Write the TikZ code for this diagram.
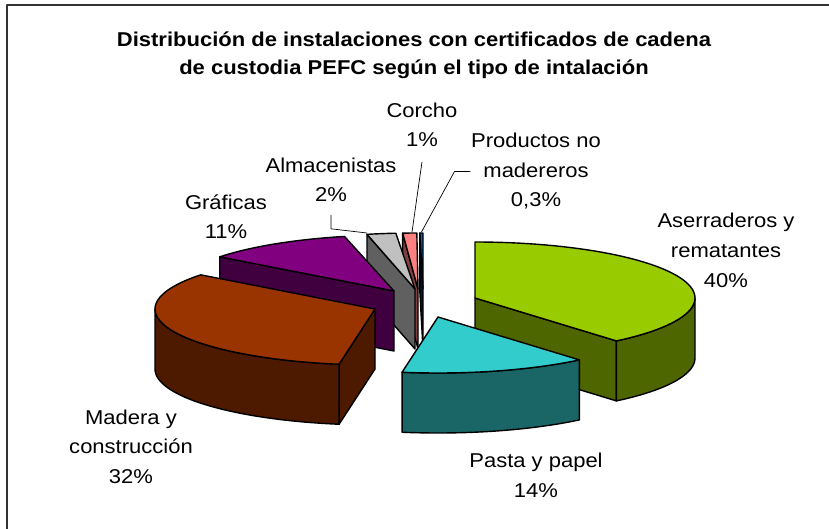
\documentclass[tikz,border=0pt]{standalone}
\usepackage{fontspec}
\setmainfont[FakeStretch=1.1]{Liberation Sans}
\definecolor{grTop}{HTML}{99CC00}\definecolor{grSide}{HTML}{4D6600}
\definecolor{paTop}{HTML}{33CCCC}\definecolor{paSide}{HTML}{1A6666}
\definecolor{maTop}{HTML}{993300}\definecolor{maSide}{HTML}{4D1A00}
\definecolor{gfTop}{HTML}{800080}\definecolor{gfSide}{HTML}{400040}
\definecolor{alTop}{HTML}{C0C0C0}\definecolor{alSide}{HTML}{606060}
\definecolor{coTop}{HTML}{FF8080}\definecolor{coSide}{HTML}{804040}
\definecolor{prTop}{HTML}{0066CC}\definecolor{prSide}{HTML}{001A33}
% cx, cy, t1, t2, colour
\newcommand\pieTop[5]{\filldraw[fill=#5] (#1,#2) -- plot[variable=\t,domain=#3:#4,samples=60] ({#1+220*sin(\t)},{#2-56*cos(\t)}) -- cycle;}
\newcommand\pieSide[5]{\filldraw[fill=#5] plot[variable=\t,domain=#3:#4,samples=40] ({#1+220*sin(\t)},{#2-56*cos(\t)}) -- plot[variable=\t,domain=#4:#3,samples=40] ({#1+220*sin(\t)},{#2+60-56*cos(\t)}) -- cycle;}
% cx, cy, angle, colour
\newcommand\pieCut[4]{\filldraw[fill=#4] (#1,#2) -- ({#1+220*sin(#3)},{#2-56*cos(#3)}) -- ++(0,60) -- (#1,{#2+60}) -- cycle;}
\begin{document}
\begin{tikzpicture}[x=1pt,y=-1pt,line width=1.4pt,line join=round,
  lbl/.style={font=\fontsize{20}{29.5}\selectfont,align=center,anchor=base,inner sep=0pt},
  ttl/.style={font=\fontsize{20}{28}\selectfont\bfseries,align=center,anchor=base,inner sep=0pt},
  leader/.style={line width=0.7pt,draw=black},
  frame/.style={line width=1.2pt,draw=black!80}]
\useasboundingbox (0,0) rectangle (829,529);
\fill[white] (0,0) rectangle (829,529);
\draw[frame] (7,529) -- (7,5) -- (829,5);

% title (base = baseline of last line)
\node[ttl] (title) at (414,75) {Distribución de instalaciones con certificados de cadena\\de custodia PEFC según el tipo de intalación};

% Productos no madereros
\pieCut{423}{289}{359.2}{prSide}
\pieTop{423}{289}{359.2}{360}{prTop}
% Corcho
\pieCut{418}{289}{356}{coSide}
\pieTop{418}{289}{356}{359.7}{coTop}
% Almacenistas
\pieCut{415}{289}{347.4}{alSide}
\pieTop{415}{289}{347.4}{355}{alTop}
% Graficas
\pieCut{394}{291}{307.6}{gfSide}
\pieTop{394}{291}{307.6}{347}{gfTop}
% Aserraderos
\pieCut{475}{298}{140}{grSide}
\pieSide{475}{298}{90}{140}{grSide}
\pieTop{475}{298}{0}{140}{grTop}
% Madera
\pieCut{375}{309}{189.4}{maSide}
\pieSide{375}{309}{189.4}{270}{maSide}
\pieTop{375}{309}{189.4}{307.6}{maTop}
% Pasta
\pieSide{438}{317}{140}{189.4}{paSide}
\pieTop{438}{317}{140}{189.4}{paTop}

% labels (anchor base = last line baseline)
\node[lbl] (ase) at (726,287) {Aserraderos y\\rematantes\\40\%};
\node[lbl] (pas) at (536,497) {Pasta y papel\\14\%};
\node[lbl] (mad) at (131,483) {Madera y\\construcción\\32\%};
\node[lbl] (gra) at (226,239) {Gráficas\\11\%};
\node[lbl] (alm) at (331,202) {Almacenistas\\2\%};
\node[lbl] (cor) at (422,147) {Corcho\\1\%};
\node[lbl] (pro) at (536,207) {Productos no\\madereros\\0,3\%};

% leader lines
\coordinate (almE) at (367,233);
\coordinate (corE) at (412,232);
\coordinate (proE) at (421.5,232);
\draw[leader] ([yshift=-12pt]alm.south) -- ++(0,14) -- (almE);
\draw[leader] ([yshift=-14pt]cor.south) -- (corE);
\draw[leader] (pro.west) -- ++(-16,0) -- (proE);
\end{tikzpicture}
\end{document}
